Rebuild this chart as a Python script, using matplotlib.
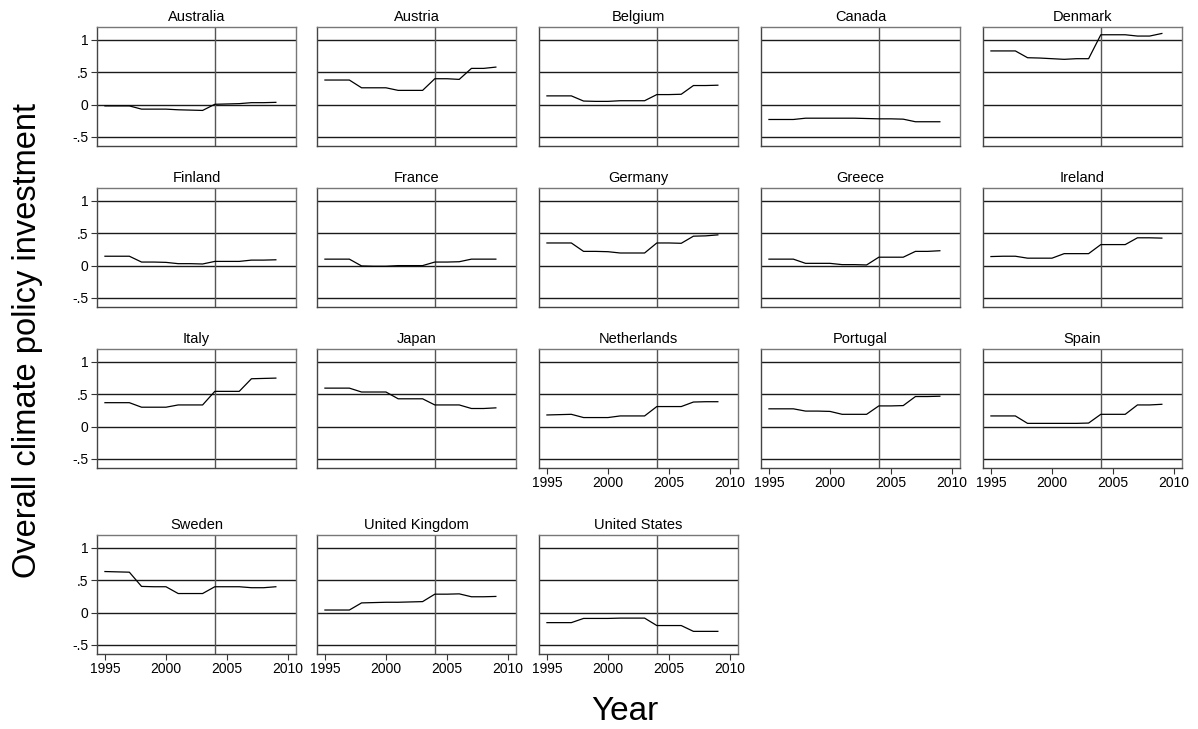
import matplotlib
matplotlib.use("Agg")
import matplotlib.pyplot as plt

plt.rcParams['font.family'] = ['Liberation Sans', 'DejaVu Sans']

years = list(range(1995, 2010))

countries = ["Australia", "Austria", "Belgium", "Canada", "Denmark",
             "Finland", "France", "Germany", "Greece", "Ireland",
             "Italy", "Japan", "Netherlands", "Portugal", "Spain",
             "Sweden", "United Kingdom", "United States"]

australia = [-0.02, -0.02, -0.02, -0.07, -0.07, -0.07, -0.08, -0.085, -0.09, 0.005, 0.01, 0.015, 0.03, 0.03, 0.035]
austria = [0.38, 0.38, 0.38, 0.26, 0.26, 0.26, 0.22, 0.22, 0.22, 0.40, 0.40, 0.39, 0.56, 0.56, 0.58]
belgium = [0.135, 0.135, 0.135, 0.055, 0.05, 0.05, 0.06, 0.06, 0.06, 0.155, 0.155, 0.16, 0.295, 0.295, 0.30]
canada = [-0.23, -0.23, -0.23, -0.21, -0.21, -0.21, -0.21, -0.21, -0.215, -0.22, -0.22, -0.225, -0.265, -0.265, -0.265]
denmark = [0.83, 0.83, 0.83, 0.725, 0.72, 0.71, 0.70, 0.71, 0.71, 1.08, 1.08, 1.08, 1.06, 1.06, 1.10]
finland = [0.145, 0.145, 0.145, 0.055, 0.055, 0.05, 0.03, 0.03, 0.025, 0.065, 0.065, 0.065, 0.085, 0.085, 0.09]
france = [0.10, 0.10, 0.10, -0.005, -0.01, -0.01, 0.0, 0.0, 0.0, 0.055, 0.055, 0.06, 0.10, 0.10, 0.10]
germany = [0.35, 0.35, 0.35, 0.22, 0.22, 0.215, 0.195, 0.195, 0.195, 0.35, 0.35, 0.345, 0.455, 0.46, 0.475]
greece = [0.10, 0.10, 0.10, 0.035, 0.035, 0.035, 0.015, 0.015, 0.01, 0.13, 0.13, 0.13, 0.22, 0.22, 0.23]
ireland = [0.14, 0.145, 0.145, 0.115, 0.115, 0.115, 0.185, 0.185, 0.185, 0.325, 0.325, 0.325, 0.43, 0.43, 0.425]
italy = [0.37, 0.37, 0.37, 0.30, 0.30, 0.30, 0.335, 0.335, 0.335, 0.545, 0.545, 0.545, 0.74, 0.745, 0.75]
japan = [0.595, 0.595, 0.595, 0.535, 0.535, 0.535, 0.43, 0.43, 0.43, 0.335, 0.335, 0.335, 0.28, 0.28, 0.29]
netherlands = [0.18, 0.185, 0.19, 0.14, 0.14, 0.14, 0.165, 0.165, 0.165, 0.31, 0.31, 0.31, 0.38, 0.385, 0.385]
portugal = [0.275, 0.275, 0.275, 0.24, 0.24, 0.235, 0.19, 0.19, 0.19, 0.32, 0.32, 0.325, 0.465, 0.465, 0.47]
spain = [0.165, 0.165, 0.165, 0.05, 0.05, 0.05, 0.05, 0.05, 0.055, 0.19, 0.19, 0.19, 0.335, 0.335, 0.345]
sweden = [0.635, 0.63, 0.625, 0.405, 0.40, 0.40, 0.295, 0.295, 0.295, 0.40, 0.40, 0.40, 0.385, 0.385, 0.40]
uk = [0.04, 0.04, 0.04, 0.15, 0.155, 0.16, 0.16, 0.165, 0.17, 0.285, 0.285, 0.29, 0.245, 0.245, 0.25]
us = [-0.155, -0.155, -0.155, -0.09, -0.09, -0.09, -0.085, -0.085, -0.085, -0.20, -0.20, -0.20, -0.29, -0.29, -0.29]

series = [australia, austria, belgium, canada, denmark, finland, france, germany,
          greece, ireland, italy, japan, netherlands, portugal, spain, sweden, uk, us]

yticks = [-0.5, 0, 0.5, 1]
ytick_labels = ["-.5", "0", ".5", "1"]
xticks = [1995, 2000, 2005, 2010]

W, H = 1198, 729
fig = plt.figure(figsize=(W / 100, H / 100), dpi=100)

col_left = [97, 317, 539, 761, 983]
row_top = [27, 188, 349, 535]
aw, ah = 199, 119

for i, (name, vals) in enumerate(zip(countries, series)):
    r, c = divmod(i, 5)
    ax = fig.add_axes([col_left[c] / W, 1 - (row_top[r] + ah) / H, aw / W, ah / H])
    ax.set_xlim(1994.35, 2010.65)
    ax.set_ylim(-0.64, 1.2)
    for y in yticks:
        ax.axhline(y, color='#1a1a1a', lw=1.0, zorder=1)
    ax.axvline(2004, color='#555555', lw=1.0, zorder=1)
    ax.plot(years, vals, color='black', lw=0.9, zorder=3)
    for s in ax.spines.values():
        s.set_color('#777777')
        s.set_linewidth(1.0)
    ax.spines['left'].set_color('#444444')
    ax.spines['bottom'].set_color('#444444')
    ax.set_title(name, fontsize=10.5, pad=4)
    ax.set_yticks(yticks)
    ax.set_xticks(xticks)
    ax.tick_params(length=4, width=0.8, color='#333333', labelsize=10, pad=2)
    if c == 0:
        ax.set_yticklabels(ytick_labels)
    else:
        ax.tick_params(axis='y', left=False, labelleft=False)
    bottom = (r == 3) or (r == 2 and c >= 2)
    if not bottom:
        ax.tick_params(axis='x', bottom=False, labelbottom=False)

fig.text(28 / W, 1 - 340 / H, "Overall climate policy investment", rotation=90,
         fontsize=23.5, ha='center', va='center')
fig.text(625 / W, 1 - 712 / H, "Year", fontsize=24, ha='center', va='center')

fig.savefig("out.png", dpi=100, facecolor='white')
